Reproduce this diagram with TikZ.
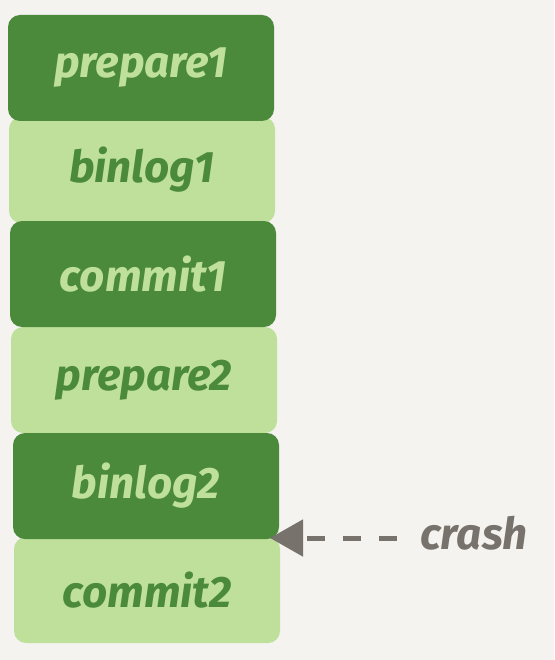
\documentclass[tikz,border=0pt]{standalone}
\usepackage{fontspec}
\setmainfont{Fira Sans}
\usetikzlibrary{arrows.meta}
\definecolor{bg}{HTML}{F4F3EF}
\definecolor{dkg}{HTML}{4B8A3B}
\definecolor{ltg}{HTML}{BFE09B}
\definecolor{crashg}{HTML}{77726B}
\tikzset{
  lbl/.style={font=\fontsize{44}{46}\selectfont\bfseries\itshape},
  blk/.style={lbl, rounded corners=12pt, minimum width=266pt, minimum height=106pt, inner sep=0pt},
  dk/.style={blk, fill=dkg, text=ltg},
  lt/.style={blk, fill=ltg, text=dkg},
}
\begin{document}
\begin{tikzpicture}[x=1pt,y=-1pt]
\fill[bg] (0,0) rectangle (554,660);
\useasboundingbox (0,0) rectangle (554,660);
\node[lt] (b1) at (142,170) {binlog1};
\node[lt] (p2) at (144,380) {prepare2};
\node[lt] (c2) at (147,590) {commit2};
\node[dk] (p1) at (141,68) {prepare1};
\node[dk] (c1) at (143,274) {commit1};
\node[dk] (b2) at (146,486) {binlog2};
\node[lbl, text=crashg, anchor=west, inner sep=0pt] (cr) at (420,533) {crash};
\coordinate (tip) at (270,538);
\draw[crashg, line width=5pt, dash pattern=on 18pt off 18pt, -{Triangle[length=33pt,width=36pt]}] (397,538) coordinate (s) -- (tip);
\end{tikzpicture}
\end{document}
